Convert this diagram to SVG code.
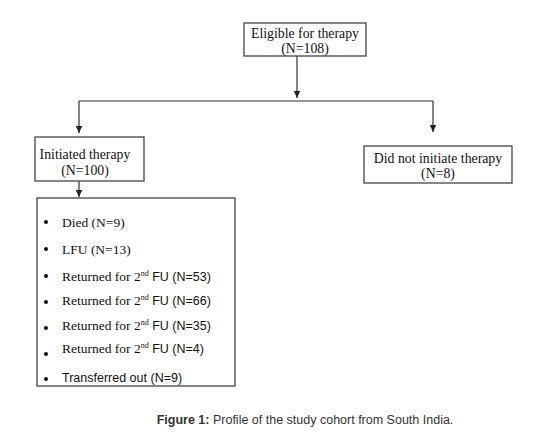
<svg xmlns="http://www.w3.org/2000/svg" width="543" height="445" viewBox="0 0 543 445">
<defs>
<marker id="ah" markerWidth="8" markerHeight="8" refX="7" refY="4" orient="auto" markerUnits="userSpaceOnUse">
<path d="M0,0.8 L7,4 L0,7.2 Z" fill="#222"/>
</marker>
<style>
.box{fill:#fff;stroke:#444;stroke-width:1.3}
.ln{fill:none;stroke:#333;stroke-width:1.2}
.t{font-family:"Liberation Serif","Times New Roman",serif;font-size:13.8px;fill:#111}
.l{font-family:"Liberation Serif","Times New Roman",serif;font-size:13.5px;fill:#111}
.s{font-family:"Liberation Sans",Arial,sans-serif;font-size:12.5px;fill:#111}
.sup{font-size:8px}
.b{fill:#111}
.cap{font-family:"Liberation Sans",Arial,sans-serif;font-size:12.5px;fill:#333}
</style>
</defs>
<rect width="543" height="445" fill="#fff"/>
<g id="connectors">
<path class="ln" d="M297,56 V98" marker-end="url(#ah)"/>
<path class="ln" d="M79,101 H433"/>
<path class="ln" d="M79,101 V133" marker-end="url(#ah)"/>
<path class="ln" d="M433,101 V132" marker-end="url(#ah)"/>
<path class="ln" d="M79,181 V197" marker-end="url(#ah)"/>
</g>
<g id="eligible">
<rect class="box" x="244" y="23" width="122" height="33"/>
<text class="t" x="305" y="38" text-anchor="middle">Eligible for therapy</text>
<text class="t" x="305" y="53" text-anchor="middle">(N=108)</text>
</g>
<g id="initiated">
<rect class="box" x="35" y="137" width="109" height="44"/>
<text class="t" x="85" y="159" text-anchor="middle">Initiated therapy</text>
<text class="t" x="85" y="175" text-anchor="middle">(N=100)</text>
</g>
<g id="notinitiated">
<rect class="box" x="364" y="146" width="148" height="37"/>
<text class="t" x="438" y="163" text-anchor="middle">Did not initiate therapy</text>
<text class="t" x="438" y="178" text-anchor="middle">(N=8)</text>
</g>
<g id="outcomes">
<rect class="box" x="37" y="198" width="198" height="188"/>
<circle class="b" cx="46" cy="222" r="2"/>
<text class="l" x="62" y="227">Died (N=9)</text>
<circle class="b" cx="46" cy="249" r="2"/>
<text class="l" x="62" y="254">LFU (N=13)</text>
<circle class="b" cx="46" cy="276" r="2"/>
<text class="l" x="62" y="281">Returned for 2<tspan class="sup" dy="-5">nd</tspan><tspan class="s" dy="5"> FU (N=53)</tspan></text>
<circle class="b" cx="46" cy="302" r="2"/>
<text class="l" x="62" y="305">Returned for 2<tspan class="sup" dy="-5">nd</tspan><tspan class="s" dy="5"> FU (N=66)</tspan></text>
<circle class="b" cx="46" cy="328" r="2"/>
<text class="l" x="62" y="330">Returned for 2<tspan class="sup" dy="-5">nd</tspan><tspan class="s" dy="5"> FU (N=35)</tspan></text>
<circle class="b" cx="46" cy="354" r="2"/>
<text class="l" x="62" y="353">Returned for 2<tspan class="sup" dy="-5">nd</tspan><tspan class="s" dy="5"> FU (N=4)</tspan></text>
<circle class="b" cx="46" cy="379" r="2"/>
<text class="s" x="62" y="382">Transferred out (N=9)</text>
</g>
<text class="cap" x="305" y="424" text-anchor="middle"><tspan font-weight="bold">Figure 1:</tspan> Profile of the study cohort from South India.</text>
</svg>
